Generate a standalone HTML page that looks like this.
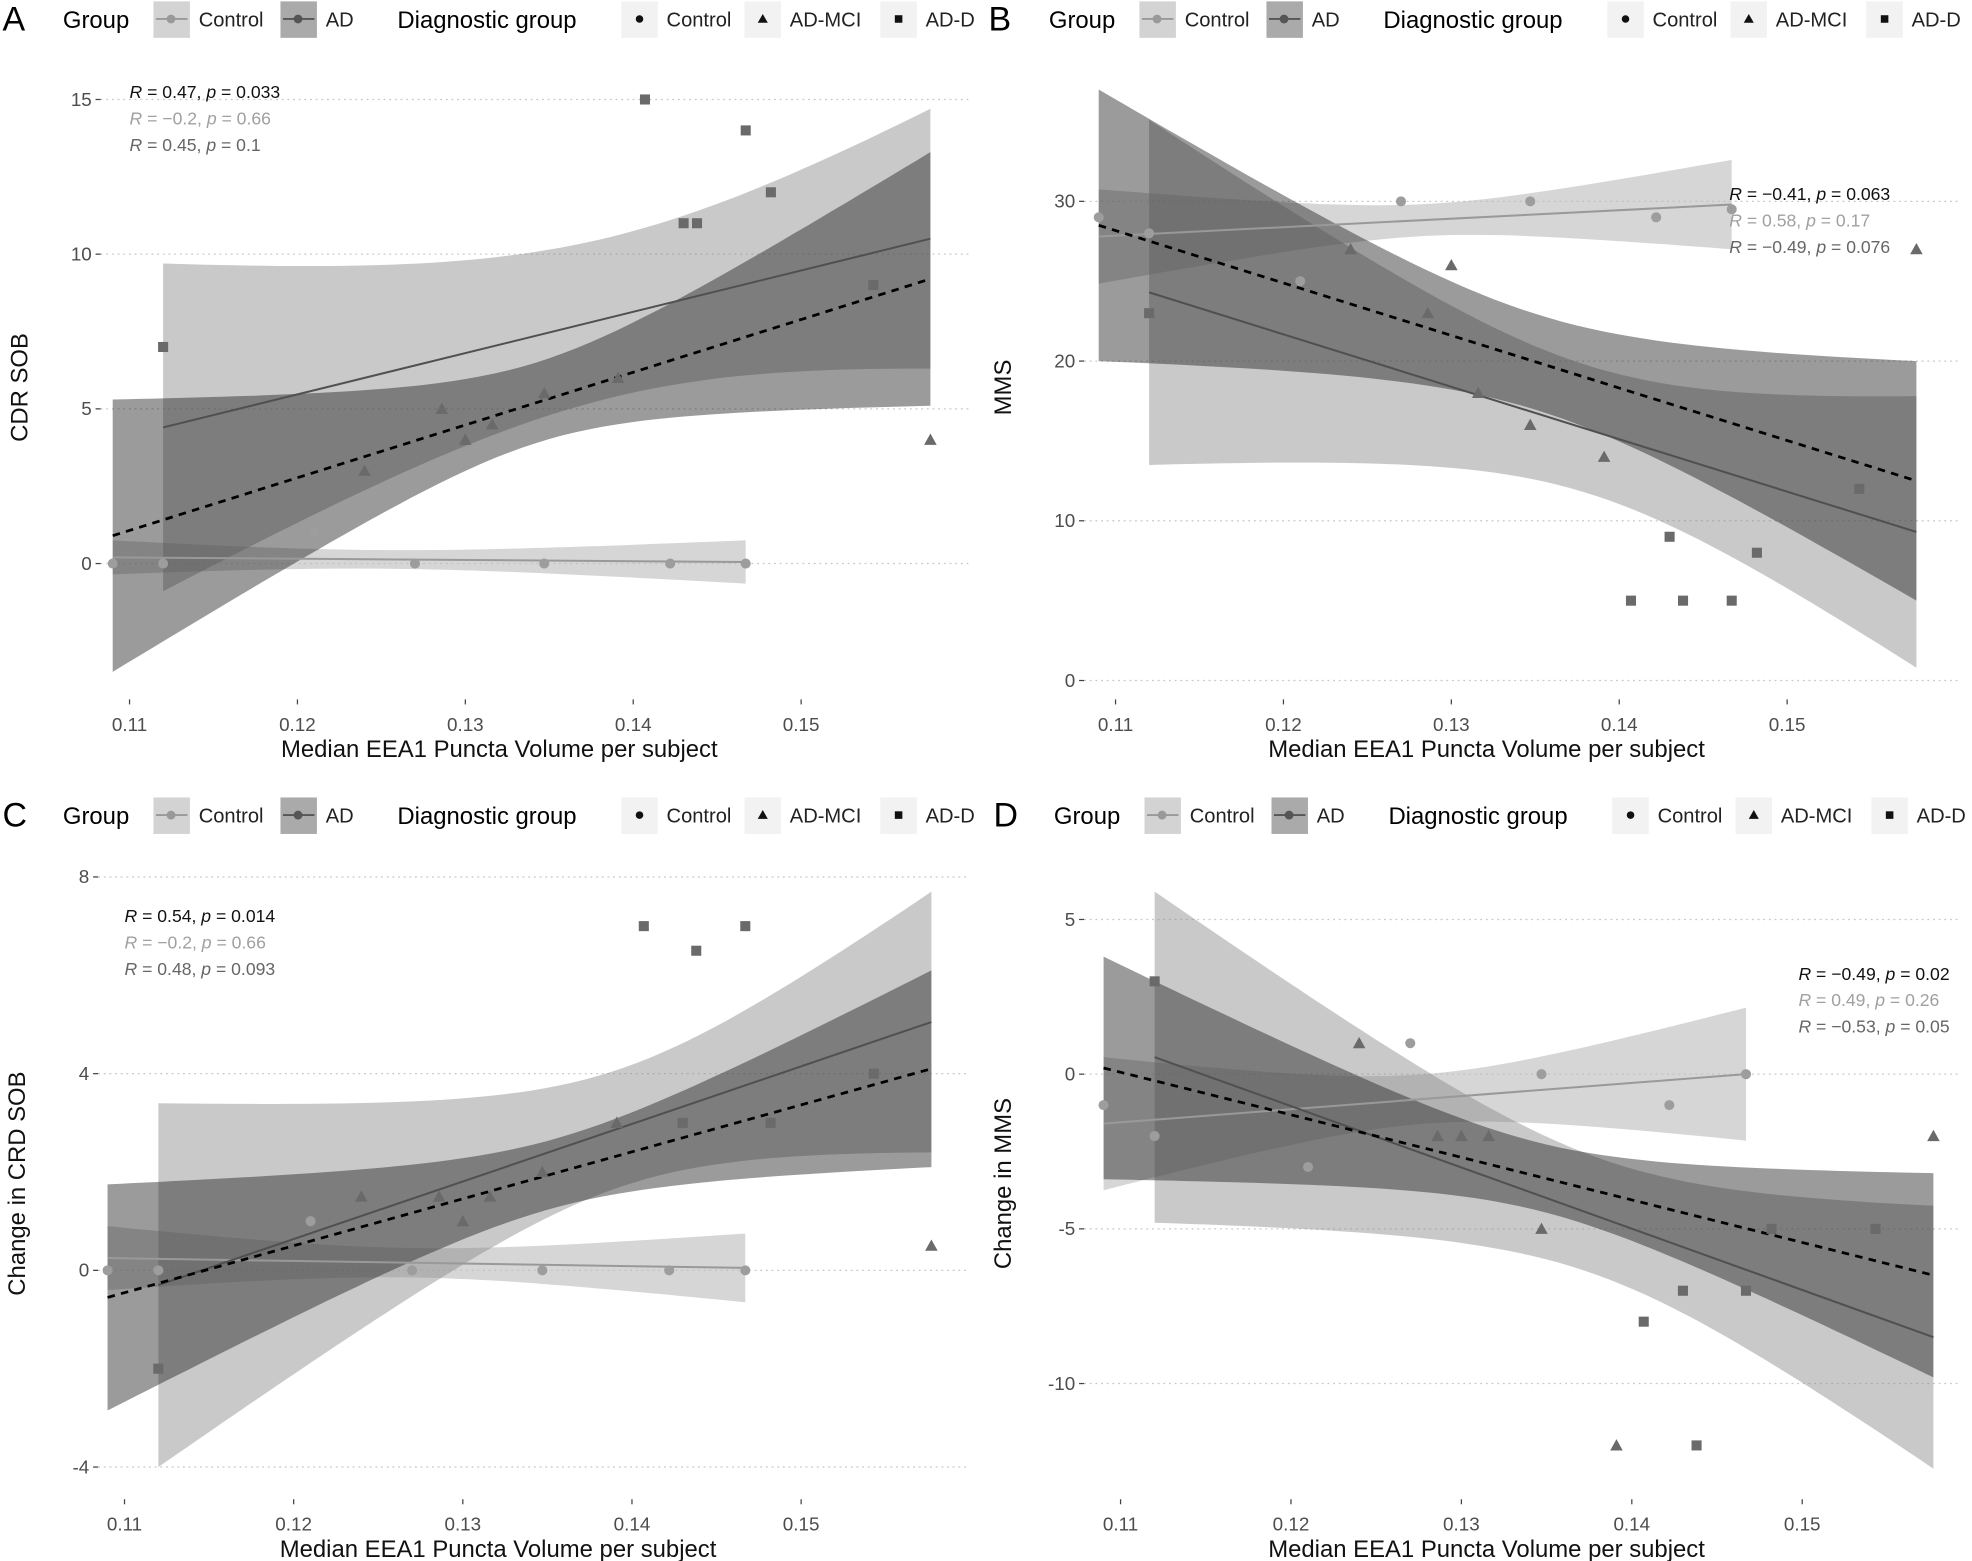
<!DOCTYPE html>
<html><head><meta charset="utf-8"><style>
html,body{margin:0;padding:0;background:#fff;}
svg{display:block;font-family:"Liberation Sans",Arial,sans-serif;}
</style></head><body>
<svg id="s" width="1972" height="1561" viewBox="0 0 1568 1241" xmlns="http://www.w3.org/2000/svg"></svg>
<script>
var S=document.getElementById('s'),out='';
var XE=0.1577;
function band(P,xL,xR,yL,yR,hL,hR,hm,fill,op){
 var a=hm*hm,r=Math.sqrt((hL*hL-a)/(hR*hR-a)),xm=(xL+r*xR)/(1+r),b=(hL*hL-a)/Math.pow(xm-xL,2);
 var up=[],lo=[],n=60;
 for(var i=0;i<=n;i++){var x=xL+(xR-xL)*i/n,y=yL+(yR-yL)*(x-xL)/(xR-xL),h=Math.sqrt(a+b*(x-xm)*(x-xm));
  up.push(P.X(x).toFixed(1)+','+P.Y(y+h).toFixed(1));lo.unshift(P.X(x).toFixed(1)+','+P.Y(y-h).toFixed(1));}
 out+='<polygon points="'+up.concat(lo).join(' ')+'" fill="'+fill+'" fill-opacity="'+op+'"/>';
}
function line(P,xL,xR,yL,yR,c,w,dash){out+='<line x1="'+P.X(xL)+'" y1="'+P.Y(yL)+'" x2="'+P.X(xR)+'" y2="'+P.Y(yR)+'" stroke="'+c+'" stroke-width="'+w+'"'+(dash?' stroke-dasharray="6,5"':'')+'/>';}
function pt(x,y,sh,c){
 if(sh==0)out+='<circle cx="'+x+'" cy="'+y+'" r="4" fill="'+c+'"/>';
 else if(sh==1)out+='<polygon points="'+x+','+(y-5)+' '+(x-5)+','+(y+4)+' '+(x+5)+','+(y+4)+'" fill="'+c+'"/>';
 else out+='<rect x="'+(x-4)+'" y="'+(y-4)+'" width="8" height="8" fill="'+c+'"/>';
}
function txt(x,y,t,sz,c,anchor,extra){out+='<text x="'+x+'" y="'+y+'" font-size="'+sz+'" fill="'+c+'"'+(anchor?' text-anchor="'+anchor+'"':'')+(extra||'')+'>'+t+'</text>';}
var CX=[0.109,0.112,0.121,0.127,0.1347,0.1422,0.1467],MX=[0.124,0.1286,0.130,0.1316,0.1347,0.1391,XE],DX=[0.112,0.1407,0.143,0.1438,0.1467,0.1482,0.1543];
function panel(c){
 var P={X:function(v){return c.x0+(v-0.11)*c.sx},Y:function(v){return c.y0-v*c.sy}};
 var ly=c.ly;
 txt(c.lx-2,ly+9,c.lab,27,'#000');
 txt(c.lx+46,ly+7,'Group',19,'#000');
 out+='<rect x="'+(c.lx+118)+'" y="'+(ly-14)+'" width="29" height="29" fill="#d3d3d3"/>';
 out+='<line x1="'+(c.lx+120)+'" y1="'+ly+'" x2="'+(c.lx+145)+'" y2="'+ly+'" stroke="#999" stroke-width="1.5"/><circle cx="'+(c.lx+132)+'" cy="'+ly+'" r="3.5" fill="#999"/>';
 txt(c.lx+154,ly+6,'Control',16,'#222');
 out+='<rect x="'+(c.lx+219)+'" y="'+(ly-14)+'" width="29" height="29" fill="#aaa"/>';
 out+='<line x1="'+(c.lx+221)+'" y1="'+ly+'" x2="'+(c.lx+246)+'" y2="'+ly+'" stroke="#555" stroke-width="1.5"/><circle cx="'+(c.lx+233)+'" cy="'+ly+'" r="3.5" fill="#555"/>';
 txt(c.lx+255,ly+6,'AD',16,'#222');
 txt(c.lx+312,ly+7,'Diagnostic group',19,'#000');
 var ks=[[490,'Control',0],[588,'AD-MCI',1],[696,'AD-D',2]];
 ks.forEach(function(k){out+='<rect x="'+(c.lx+k[0])+'" y="'+(ly-14)+'" width="29" height="29" fill="#f2f2f2"/>';
  var x=c.lx+k[0]+14.5;if(k[2]==0)out+='<circle cx="'+x+'" cy="'+ly+'" r="3" fill="#111"/>';else if(k[2]==1)out+='<polygon points="'+x+','+(ly-4)+' '+(x-4)+','+(ly+3)+' '+(x+4)+','+(ly+3)+'" fill="#111"/>';else out+='<rect x="'+(x-3)+'" y="'+(ly-3)+'" width="6" height="6" fill="#111"/>';
  txt(c.lx+k[0]+36,ly+6,k[1],16,'#222');});
 c.yt.forEach(function(v){var y=P.Y(v);out+='<line x1="'+c.pl+'" y1="'+y+'" x2="'+c.pr+'" y2="'+y+'" stroke="#c8c8c8" stroke-width="1" stroke-dasharray="1.5,3"/>';
  out+='<line x1="'+(c.pl-4)+'" y1="'+y+'" x2="'+c.pl+'" y2="'+y+'" stroke="#444"/>';
  txt(c.pl-7,y+5,v,15,'#4d4d4d','end');});
 [0.11,0.12,0.13,0.14,0.15].forEach(function(v){var x=P.X(v);out+='<line x1="'+x+'" y1="'+c.pb+'" x2="'+x+'" y2="'+(c.pb+4)+'" stroke="#444"/>';
  txt(x,c.pb+25,v,15,'#4d4d4d','middle');});
 txt((c.pl+c.pr)/2-28,c.pb+46,'Median EEA1 Puncta Volume per subject',19,'#111','middle');
 var my=(c.pt+c.pb)/2;out+='<text transform="translate('+(c.pl-58)+','+my+') rotate(-90)" font-size="19" fill="#111" text-anchor="middle">'+c.yl+'</text>';
 var b=c.bc;band(P,0.109,0.1467,b[0],b[1],b[2],b[3],b[4],'#bbb',0.6);
 b=c.ba;band(P,0.112,XE,b[0],b[1],b[2],b[3],b[4],'#888',0.45);
 b=c.bo;band(P,0.109,XE,b[0],b[1],b[2],b[3],b[4],'#222',0.45);
 line(P,0.109,0.1467,c.bc[0],c.bc[1],'#999',1.6);
 line(P,0.112,XE,c.ba[0],c.ba[1],'#505050',1.6);
 line(P,0.109,XE,c.bo[0],c.bo[1],'#000',2.2,1);
 CX.forEach(function(x,i){pt(P.X(x),P.Y(c.pc[i]),0,'#9d9d9d')});
 MX.forEach(function(x,i){pt(P.X(x),P.Y(c.pm[i]),1,'#6a6a6a')});
 DX.forEach(function(x,i){pt(P.X(x),P.Y(c.pd[i]),2,'#6a6a6a')});
 var cols=['#111','#a0a0a0','#666'];
 c.rt.forEach(function(t,i){out+='<text x="'+c.rx+'" y="'+(c.ry+i*21)+'" font-size="14" fill="'+cols[i]+'"><tspan font-style="italic">R</tspan> = '+t[0]+', <tspan font-style="italic">p</tspan> = '+t[1]+'</text>';});
}
panel({lab:'A',lx:4,ly:15,x0:103,sx:13350,y0:448,sy:24.6,pl:80,pr:770,pt:60,pb:556,yt:[0,5,10,15],yl:'CDR SOB',
 bc:[0.2,0.05,0.55,0.7,0.3],ba:[4.4,10.5,5.3,4.2,2.6],bo:[0.9,9.2,4.4,4.1,1.3],
 pc:[0,0,1,0,0,0,0],pm:[3,5,4,4.5,5.5,6,4],pd:[7,15,11,11,14,12,9],
 rt:[['0.47','0.033'],['−0.2','0.66'],['0.45','0.1']],rx:103,ry:78});
panel({lab:'B',lx:788,ly:15,x0:887,sx:13350,y0:541,sy:12.7,pl:862,pr:1558,pt:60,pb:556,yt:[0,10,20,30],yl:'MMS',
 bc:[27.8,29.8,2.95,2.8,1.0],ba:[24.3,9.3,10.8,8.5,4],bo:[28.5,12.5,8.5,7.5,3],
 pc:[29,28,25,30,30,29,29.5],pm:[27,23,26,18,16,14,27],pd:[23,5,9,5,5,8,12],
 rt:[['−0.41','0.063'],['0.58','0.17'],['−0.49','0.076']],rx:1375,ry:159});
panel({lab:'C',lx:4,ly:648,x0:99,sx:13450,y0:1010,sy:39.1,pl:78,pr:770,pt:690,pb:1192,yt:[-4,0,4,8],yl:'Change in CRD SOB',
 bc:[0.25,0.05,0.65,0.7,0.3],ba:[-0.3,5.05,3.7,2.65,1.2],bo:[-0.55,4.1,2.3,2.0,0.7],
 pc:[0,0,1,0,0,0,0],pm:[1.5,1.5,1,1.5,2,3,0.5],pd:[-2,7,3,6.5,7,3,4],
 rt:[['0.54','0.014'],['−0.2','0.66'],['0.48','0.093']],rx:99,ry:733});
panel({lab:'D',lx:792,ly:648,x0:891,sx:13550,y0:854,sy:24.6,pl:862,pr:1558,pt:690,pb:1192,yt:[-10,-5,0,5],yl:'Change in MMS',
 bc:[-1.6,0,2.15,2.15,0.8],ba:[0.55,-8.5,5.35,4.25,1.9],bo:[0.2,-6.5,3.6,3.3,1.1],
 pc:[-1,-2,-3,1,0,-1,0],pm:[1,-2,-2,-2,-5,-12,-2],pd:[3,-8,-7,-12,-7,-5,-5],
 rt:[['−0.49','0.02'],['0.49','0.26'],['−0.53','0.05']],rx:1430,ry:779});
S.innerHTML=out;
</script>
</body></html>
